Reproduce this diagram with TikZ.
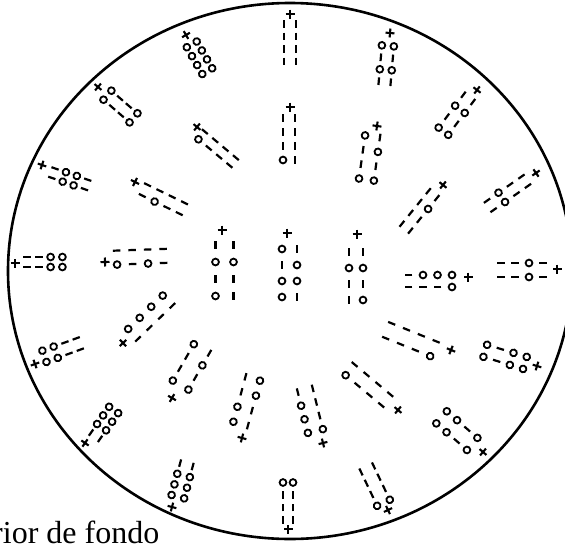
\documentclass[tikz,border=0pt]{standalone}
\usepackage{fontspec}
\setmainfont{Liberation Serif}
\newcommand\symo[2]{\draw[circst] (#1pt,#2pt) circle[radius=3.4pt];}
\newcommand\symd[2]{\draw[dashst] ({#1pt-3.8pt},#2pt) -- ({#1pt+3.8pt},#2pt);}
% #1 plus position, #2 direction (screen deg), #3 row centre offset, #4 half gap,
% #5 first distance, #6 spacing, #7 row A (left of travel), #8 row B
\newcommand\crmotif[8]{%
\begin{scope}[shift={(#1)},rotate={-(#2)}]
\draw[plusst] (-4.5pt,0pt) -- (4.5pt,0pt) (0pt,-4.5pt) -- (0pt,4.5pt);
\foreach \sy [count=\mi from 0] in {#7}{\pgfmathsetmacro\mU{#5+\mi*(#6)}\pgfmathsetmacro\mV{(#3)+(#4)}\csname sym\sy\endcsname{\mU}{\mV}}
\foreach \sy [count=\mi from 0] in {#8}{\pgfmathsetmacro\mU{#5+\mi*(#6)}\pgfmathsetmacro\mV{(#3)-(#4)}\csname sym\sy\endcsname{\mU}{\mV}}
\end{scope}}
\begin{document}
\begin{tikzpicture}[x=1pt,y=-1pt,
  circst/.style={line width=1.8pt},
  dashst/.style={line width=2.2pt},
  plusst/.style={line width=2.1pt},
  rim/.style={line width=2.6pt}]
\useasboundingbox (0,0) rectangle (565,544);
\draw[rim] (290,271) ellipse[x radius=282, y radius=268];
% centre
\crmotif{222,230}{90}{2.5}{9}{15}{17}{d,o,d,d}{d,o,d,o}
\crmotif{287,233}{90}{2.5}{7.5}{16}{16}{d,o,o,d}{o,d,o,o}
\crmotif{357,234}{90}{-1}{7}{18}{16}{d,o,d,o}{d,o,d,d}
% ring 2
\crmotif{290,107}{90}{-1}{6}{11}{14}{d,d,d,d}{d,d,d,o}
\crmotif{377,126}{98}{-3}{7.5}{11}{14.5}{d,o,d,o}{o,d,d,o}
\crmotif{443,185}{129}{-2}{5.5}{14}{14}{d,o,d,d}{d,d,d,d}
\crmotif{468,277}{180}{4}{6}{16}{14.5}{o,d,d,d}{o,o,o,d}
\crmotif{451,350}{202}{5.5}{8}{17}{16}{o,d,d,d}{d,d,d,d}
\crmotif{398,410}{220}{0}{7}{16}{15.5}{d,d,d,o}{d,d,d,d}
\crmotif{323,443}{256}{4.5}{7.7}{13.5}{14}{o,o,o,d}{o,d,d,d}
\crmotif{242,438}{285}{5}{7.5}{13.5}{15.5}{o,o,d,d}{d,d,o,o}
\crmotif{172,398}{300}{-1}{9}{15.5}{14}{o,d,d,o}{o,d,o,d}
\crmotif{123,343}{316}{-0.5}{7}{13.5}{16}{o,o,o,o}{d,d,d,d}
\crmotif{105,262}{-2}{4}{7}{12}{15.5}{d,d,d,d}{o,d,o,d}
\crmotif{135,182}{26}{-3}{6}{12.5}{13.7}{d,d,d,d}{d,o,d,d}
\crmotif{197,127}{40}{-3.5}{5}{9}{13.5}{d,d,d,d}{o,d,d,d}
% ring 3
\crmotif{290,14}{90}{0}{6}{10}{12.5}{d,d,d,d}{d,d,d,d}
\crmotif{390,33}{95}{-1}{6}{13}{12}{o,d,o,d}{o,d,o,d}
\crmotif{477,90}{127}{-2}{6}{12}{13.7}{d,o,d,o}{d,o,d,o}
\crmotif{536,173}{145}{0.3}{5.7}{14}{14}{d,d,o,d}{d,d,o,d}
\crmotif{557,269}{180}{1}{7}{14}{14}{d,o,d,d}{d,o,d,d}
\crmotif{537,366}{197}{0.6}{6.3}{12.5}{13.8}{o,o,d,o}{o,o,d,o}
\crmotif{483,452}{221}{1}{8}{13.5}{13.5}{o,d,o,o}{o,d,o,o}
\crmotif{388,510}{244.5}{1}{7}{8.5}{12.5}{o,d,d,d}{o,d,d,d}
\crmotif{288,529}{270}{0}{5}{9}{12.5}{d,d,d,o}{d,d,d,o}
\crmotif{172,507}{285}{-3}{6.5}{11.5}{11}{o,o,o,d}{o,o,o,d}
\crmotif{85,443}{305}{-4.5}{5.5}{12}{10.5}{d,o,o,o}{d,o,o,o}
\crmotif{35,364}{340}{4}{6}{11.5}{12}{o,o,d,d}{o,o,d,d}
\crmotif{15,263}{0}{1}{5}{12}{11.8}{d,d,o,o}{d,d,o,o}
\crmotif{42,165}{19}{-4}{5}{13.5}{11.5}{d,o,o,d}{d,o,o,d}
\crmotif{98,87}{41}{0}{6}{12.5}{11.5}{o,d,d,o}{o,d,d,o}
\crmotif{186,35}{60}{0.3}{5.7}{11}{10.3}{o,o,o,o}{o,o,o,o}
\node[font=\fontsize{32}{32}\selectfont, anchor=base west, inner sep=0pt] (caption) at (-8,543) {rior de fondo};
\end{tikzpicture}
\end{document}
